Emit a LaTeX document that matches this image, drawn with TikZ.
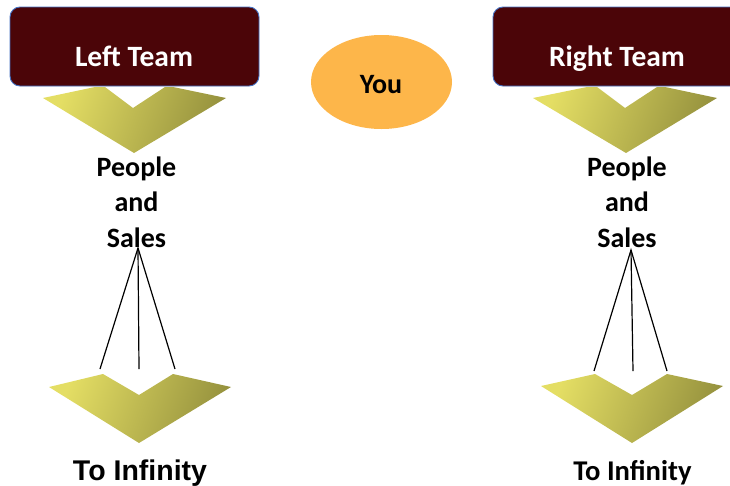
\documentclass[tikz,border=0pt]{standalone}
\usepackage{fontspec}
\usetikzlibrary{shapes.geometric}
\setmainfont{Carlito}
\newfontfamily\arialfont{Liberation Sans}
\definecolor{boxfill}{RGB}{75,5,8}
\definecolor{boxline}{RGB}{68,114,196}
\definecolor{youfill}{RGB}{253,182,74}
\definecolor{chevlight}{RGB}{228,222,100}
\definecolor{chevdark}{RGB}{150,146,62}
\begin{document}
\begin{tikzpicture}[x=1pt,y=-1pt,
  teambox/.style={draw=boxline,line width=0.9pt,fill=boxfill,rounded corners=10pt},
  teamtext/.style={text=white,font=\fontsize{29.5}{32}\selectfont\bfseries,anchor=base,inner sep=0pt},
  chev/.style={left color=chevlight,right color=chevdark,shading angle=70},
  label/.style={font=\fontsize{28}{35.5}\selectfont\bfseries,align=center,anchor=base,inner sep=0pt},
  link/.style={draw=black,line width=1.2pt}]
\useasboundingbox (0,0) rectangle (730,485);
\clip (0,0) rectangle (730,485);
% upper chevrons (drawn beneath boxes)
\shade[chev] (43,98) -- (95,87) -- (105,87) -- (133,108) -- (165,87) -- (173,87) -- (226,98) -- (134,153) -- cycle;
\shade[chev] (533,98) -- (587,87) -- (597,87) -- (625,108) -- (657,87) -- (665,87) -- (717,98) -- (626,153) -- cycle;
% team boxes
\draw[teambox] (10,7) rectangle (259,86);
\node[teamtext] (lt) at (134,66) {Left Team};
\draw[teambox] (493,7) rectangle (742,86);
\node[teamtext] (rt) at (617,66) {Right Team};
% you
\node[ellipse,fill=youfill,minimum width=141pt,minimum height=94pt,inner sep=0pt] (you) at (381.5,82) {};
\node[label] (youtxt) at (381,93) {You};
% people and sales (base anchor = last line)
\node[label] (lps) at (136.5,247) {People\\and\\Sales};
\node[label] (rps) at (627,247) {People\\and\\Sales};
% lower chevrons
\shade[chev] (49,387) -- (103,374) -- (139,395) -- (173,374) -- (231,387) -- (139,443) -- cycle;
\shade[chev] (541,386) -- (595,374) -- (632,395) -- (667,374) -- (723,386) -- (632,443) -- cycle;
% connectors
\coordinate (la) at (138,248);
\coordinate (l1) at (100,369);
\coordinate (l2) at (139,369);
\coordinate (l3) at (175,369);
\coordinate (ra) at (631,250);
\coordinate (r1) at (594,371);
\coordinate (r2) at (633,371);
\coordinate (r3) at (667,371);
\draw[link] (l1) -- (la) -- (l3);
\draw[link] (la) -- (l2);
\draw[link] (r1) -- (ra) -- (r3);
\draw[link] (ra) -- (r2);
% bottom labels
\node[font=\arialfont\fontsize{28.5}{34}\selectfont\bfseries,anchor=base,inner sep=0pt] (linf) at (140,480) {To Infinity};
\node[font=\fontsize{28.6}{34}\selectfont\bfseries,anchor=base,inner sep=0pt] (rinf) at (632.5,480) {To Infinity};
\end{tikzpicture}
\end{document}
